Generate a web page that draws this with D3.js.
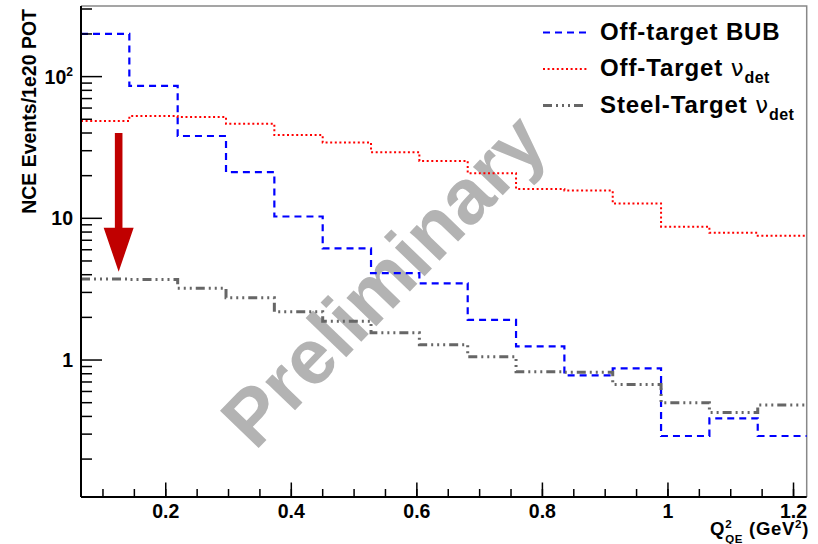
<!DOCTYPE html>
<html>
<head>
<meta charset="utf-8">
<script src="https://cdn.jsdelivr.net/npm/d3@7"></script>
<style>
  body { margin: 0; background: #fff; }
  svg { display: block; font-family: "Liberation Sans", Arial, sans-serif; }
  text { white-space: pre; }
</style>
</head>
<body>
<svg id="chart" width="818" height="544"></svg>
<script>
// bin edges in Q2 (GeV^2), 15 bins
const binEdges = [0.065, 0.142, 0.219, 0.296, 0.373, 0.450, 0.527, 0.604,
  0.681, 0.758, 0.835, 0.912, 0.989, 1.066, 1.143, 1.221];
const offTargetBUB = [200, 86, 38.1, 21.2, 10.3, 6.13, 4.1, 3.48, 1.92, 1.25, 0.78, 0.874, 0.291, 0.388, 0.291];
const offTargetNu = [48.6, 52.7, 51.9, 46.5, 38.7, 34.3, 29.3, 25.4, 20.8, 16.1, 15.7, 12.7, 8.73, 7.92, 7.54];
const steelTargetNu = [3.73, 3.70, 3.21, 2.75, 2.19, 1.88, 1.56, 1.28, 1.055, 0.827, 0.82, 0.673, 0.50, 0.427, 0.481];

const xTicksMajor = [0.2, 0.4, 0.6, 0.8, 1.0, 1.2];
const xTickLabels = ["0.2", "0.4", "0.6", "0.8", "1", "1.2"];
const yTicksMajor = [1, 10, 100];
const arrowMark = { x: 0.125, from: 40, to: 4.2 };

const series = [
  { name: "Off-target BUB", nu: false, values: offTargetBUB, color: "#0000ff", width: 2.2, dash: "7,5" },
  { name: "Off-Target ", nu: true, values: offTargetNu, color: "#ff0000", width: 2, dash: "2,2.6" },
  { name: "Steel-Target ", nu: true, values: steelTargetNu, color: "#666666", width: 3, dash: "9,4,2,4,2,4,2,4" }
];

const svg = d3.select("#chart");
const pLeft = 81, pRight = 806.7, pTop = 6, pBottom = 497;
const x = d3.scaleLinear().domain([0.065, 1.221]).range([pLeft, pRight]);
const y = d3.scaleLog().domain([0.108, 315]).range([pBottom, pTop]);

// watermark under the histograms
svg.append("text")
  .attr("transform", "translate(383,280) rotate(-46)")
  .attr("text-anchor", "middle")
  .attr("dy", "0.35em")
  .attr("font-size", 78)
  .attr("font-weight", "bold")
  .attr("fill", "#b3b3b3")
  .text("Preliminary");

// frame top/right
svg.append("path")
  .attr("d", `M${pLeft},${pTop}H${pRight}V${pBottom}`)
  .attr("fill", "none")
  .attr("stroke", "#888")
  .attr("stroke-width", 1.5);

// histograms
const step = d3.line()
  .x(d => x(d[0]))
  .y(d => y(d[1]))
  .curve(d3.curveStepAfter);

series.forEach(s => {
  const pts = s.values.map((v, i) => [binEdges[i], v]);
  pts.push([binEdges[binEdges.length - 1], s.values[s.values.length - 1]]);
  svg.append("path")
    .attr("d", step(pts))
    .attr("fill", "none")
    .attr("stroke", s.color)
    .attr("stroke-width", s.width)
    .attr("stroke-dasharray", s.dash);
});

// x axis
const xMinor = d3.range(0.1, 1.21, 0.05).filter(t => t >= 0.065 && t <= 1.221);
const xAxisG = svg.append("g");
xAxisG.append("line").attr("x1", pLeft).attr("x2", pRight).attr("y1", pBottom).attr("y2", pBottom)
  .attr("stroke", "#000").attr("stroke-width", 2);
xAxisG.selectAll(".xminor").data(xMinor).enter().append("line")
  .attr("x1", d => x(d)).attr("x2", d => x(d))
  .attr("y1", pBottom).attr("y2", pBottom - 8)
  .attr("stroke", "#000").attr("stroke-width", 1.5);
xAxisG.selectAll(".xmajor").data(xTicksMajor).enter().append("line")
  .attr("x1", d => x(d)).attr("x2", d => x(d))
  .attr("y1", pBottom).attr("y2", pBottom - 14.5)
  .attr("stroke", "#000").attr("stroke-width", 1.5);
xAxisG.selectAll(".xlab").data(xTicksMajor).enter().append("text")
  .attr("x", d => x(d)).attr("y", 517.5)
  .attr("text-anchor", "middle")
  .attr("font-size", 19.5).attr("font-weight", "bold")
  .text((d, i) => xTickLabels[i]);

// y axis
const yMinor = [];
[0.1, 1, 10, 100].forEach(dec => {
  for (let k = 2; k <= 9; k++) {
    const v = dec * k;
    if (v >= 0.108 && v <= 315) yMinor.push(v);
  }
});
const yAxisG = svg.append("g");
yAxisG.append("line").attr("x1", pLeft).attr("x2", pLeft).attr("y1", pTop).attr("y2", pBottom)
  .attr("stroke", "#000").attr("stroke-width", 2);
yAxisG.selectAll(".yminor").data(yMinor).enter().append("line")
  .attr("x1", pLeft).attr("x2", pLeft + 11)
  .attr("y1", d => y(d)).attr("y2", d => y(d))
  .attr("stroke", "#000").attr("stroke-width", 1.5);
yAxisG.selectAll(".ymajor").data(yTicksMajor).enter().append("line")
  .attr("x1", pLeft).attr("x2", pLeft + 21)
  .attr("y1", d => y(d)).attr("y2", d => y(d))
  .attr("stroke", "#000").attr("stroke-width", 1.5);
const yLab = yAxisG.selectAll(".ylab").data(yTicksMajor).enter().append("text")
  .attr("x", 73).attr("y", d => y(d))
  .attr("dy", "0.36em")
  .attr("text-anchor", "end")
  .attr("font-size", 19.5).attr("font-weight", "bold");
yLab.each(function (d) {
  const t = d3.select(this);
  if (d >= 100) {
    t.append("tspan").text("10");
    t.append("tspan").attr("font-size", 12).attr("dy", -8).text(Math.round(Math.log10(d)));
  } else {
    t.text(d);
  }
});

// axis titles
svg.append("text")
  .attr("transform", "translate(36,9) rotate(-90)")
  .attr("text-anchor", "end")
  .attr("font-size", 19.5).attr("font-weight", "bold")
  .text("NCE Events/1e20 POT");

const xt = svg.append("g").attr("font-weight", "bold").attr("letter-spacing", 0.7);
let cx = 0;
const base = 535;
function piece(txt, size, dy) {
  const t = xt.append("text").attr("x", cx).attr("y", base + dy).attr("font-size", size).text(txt);
  return t.node().getComputedTextLength();
}
cx += piece("Q", 18.5, 0);
const wSup = piece("2", 11.5, -7.5);
const wSub = piece("QE", 11.5, 8);
cx += Math.max(wSup, wSub);
cx += piece(" (GeV", 18.5, 0);
cx += piece("2", 11.5, -7.5);
cx += piece(")", 18.5, 0);
xt.attr("transform", `translate(${809 - cx},0)`);

// arrow annotation
const ax = x(arrowMark.x);
const headLen = 44, headW = 15, shaftW = 3.8;
const yTip = y(arrowMark.to), yTop = y(arrowMark.from);
svg.append("path")
  .attr("d", `M${ax - shaftW},${yTop}H${ax + shaftW}V${yTip - headLen}H${ax + headW}L${ax},${yTip}L${ax - headW},${yTip - headLen}H${ax - shaftW}Z`)
  .attr("fill", "#c00000");

// legend
const legend = svg.append("g");
const rowBase = [39.5, 76, 112.5];
series.forEach((s, i) => {
  legend.append("line")
    .attr("x1", 543).attr("x2", 587)
    .attr("y1", rowBase[i] - 7).attr("y2", rowBase[i] - 7)
    .attr("stroke", s.color)
    .attr("stroke-width", s.width)
    .attr("stroke-dasharray", s.dash);
  const t = legend.append("text")
    .attr("x", 600).attr("y", rowBase[i])
    .attr("font-size", 24).attr("font-weight", "bold")
    .attr("letter-spacing", 0.9);
  t.append("tspan").text(s.name);
  if (s.nu) {
    t.append("tspan").attr("font-weight", "normal").attr("font-family", "DejaVu Sans").attr("font-size", 23).text("ν");
    t.append("tspan").attr("font-size", 16).attr("dy", 7).attr("letter-spacing", 0.4).text("det");
  }
});
</script>
</body>
</html>
